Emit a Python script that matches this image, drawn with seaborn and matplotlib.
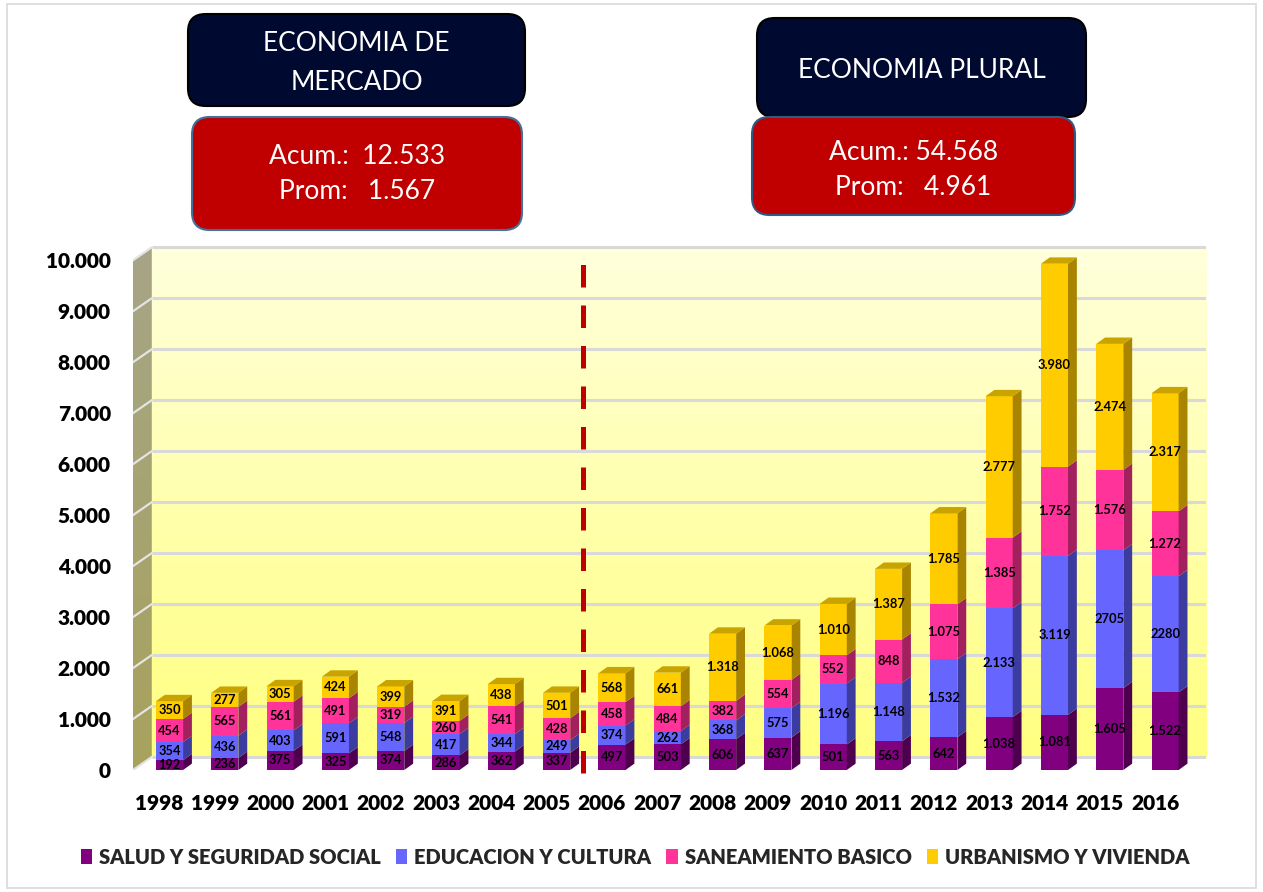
import numpy as np
import pandas as pd
import matplotlib
matplotlib.use("Agg")
import matplotlib.pyplot as plt
import matplotlib.transforms as mtrans
from matplotlib.patches import Polygon, Patch, FancyBboxPatch, Rectangle
from matplotlib.colors import LinearSegmentedColormap
import seaborn as sns

# ---- data -------------------------------------------------------------
years = ["1998", "1999", "2000", "2001", "2002", "2003", "2004", "2005", "2006",
         "2007", "2008", "2009", "2010", "2011", "2012", "2013", "2014", "2015", "2016"]
salud = [192, 236, 375, 325, 374, 286, 362, 337, 497, 503, 606, 637, 501, 563, 642,
         1038, 1081, 1605, 1522]
educacion = [354, 436, 403, 591, 548, 417, 344, 249, 374, 262, 368, 575, 1196, 1148,
             1532, 2133, 3119, 2705, 2280]
saneamiento = [454, 565, 561, 491, 319, 260, 541, 428, 458, 484, 382, 554, 552, 848,
               1075, 1385, 1752, 1576, 1272]
urbanismo = [350, 277, 305, 424, 399, 391, 438, 501, 568, 661, 1318, 1068, 1010, 1387,
             1785, 2777, 3980, 2474, 2317]
series_names = ["SALUD Y SEGURIDAD SOCIAL", "EDUCACION Y CULTURA",
                "SANEAMIENTO BASICO", "URBANISMO Y VIVIENDA"]
y_ticks = [0, 1000, 2000, 3000, 4000, 5000, 6000, 7000, 8000, 9000, 10000]
# labels printed without thousands separator: (series index, year)
plain_labels = {(1, "2015"), (1, "2016")}

box_titles = ["ECONOMIA DE\nMERCADO", "ECONOMIA PLURAL"]
box_stats = ["Acum.:  12.533\nProm:   1.567", "Acum.: 54.568\nProm:   4.961"]

# ---- style ------------------------------------------------------------
front_colors = ["#800080", "#6666FF", "#FF3399", "#FFCC00"]
side_colors = ["#4E004E", "#3C3CA0", "#A3205F", "#A88400"]
top_color = "#C9A300"
FONT = "Lato"

sns.set_theme(style="white")
plt.rcParams["font.family"] = [FONT, "DejaVu Sans"]

W, H, DPI = 1263, 892, 100
fig = plt.figure(figsize=(W / DPI, H / DPI), dpi=DPI)


def fig_rect(x0, y0, x1, y1):
    """pixel box (top-left origin) -> figure fraction [l, b, w, h]"""
    return [x0 / W, 1 - y1 / H, (x1 - x0) / W, (y1 - y0) / H]


ax = fig.add_axes(fig_rect(133, 245, 1206, 770))

df = pd.DataFrame({"year": years, "s0": salud, "s1": educacion,
                   "s2": saneamiento, "s3": urbanismo})
stack = np.cumsum(np.array([salud, educacion, saneamiento, urbanismo]), axis=0)

bar_w = 0.49
# stacked bars: draw cumulative totals from the top layer down
for k in range(3, -1, -1):
    sns.barplot(x=df["year"], y=stack[k], color=front_colors[k], width=bar_w,
                saturation=1, edgecolor="none", ax=ax, zorder=3)

# ---- pseudo 3D geometry ----------------------------------------------
xmin, xmax = -0.66, 18.74
ymax = 10300
wall_dx, wall_dy = 0.34, 256      # depth of the walls
bar_dx, bar_dy = 0.16, 125        # depth of the bars
ax.set_xlim(xmin, xmax)
ax.set_ylim(0, ymax)

# back wall with vertical gradient
wall_cmap = LinearSegmentedColormap.from_list("wall", ["#FFFF80", "#FFFFDC"])
grad = np.linspace(0, 1, 256).reshape(-1, 1)
ax.imshow(grad, extent=[xmin + wall_dx, xmax, wall_dy, y_ticks[-1] + wall_dy],
          origin="lower", aspect="auto", cmap=wall_cmap, zorder=0)

# left side wall
side_cmap = LinearSegmentedColormap.from_list("side", ["#A8A25C", "#A6A587"])
side_img = ax.imshow(grad, extent=[xmin, xmin + wall_dx, 0, y_ticks[-1] + wall_dy],
                     origin="lower", aspect="auto", cmap=side_cmap, zorder=0)
side_poly = Polygon([(xmin, 0), (xmin + wall_dx, wall_dy),
                     (xmin + wall_dx, y_ticks[-1] + wall_dy), (xmin, y_ticks[-1])],
                    closed=True, facecolor="none", edgecolor="none")
ax.add_patch(side_poly)
side_img.set_clip_path(side_poly)

# grid lines on the back wall and the side wall
for t in y_ticks:
    ax.plot([xmin + wall_dx, xmax], [t + wall_dy, t + wall_dy], color="#D9D9D9",
            lw=2.2, zorder=1, solid_capstyle="butt")
    ax.plot([xmin, xmin + wall_dx], [t, t + wall_dy], color="#E4E4E4",
            lw=1.6, zorder=1)

# side and top faces of every segment, plus value labels
series = [salud, educacion, saneamiento, urbanismo]
for i, yr in enumerate(years):
    for k in range(4):
        bottom = stack[k - 1][i] if k > 0 else 0
        top = stack[k][i]
        xr = i + bar_w / 2
        ax.add_patch(Polygon([(xr, bottom), (xr + bar_dx, bottom + bar_dy),
                              (xr + bar_dx, top + bar_dy), (xr, top)],
                             closed=True, facecolor=side_colors[k],
                             edgecolor="none", zorder=3))
        v = series[k][i]
        txt = str(v) if (k, yr) in plain_labels else f"{v:,}".replace(",", ".")
        ax.text(i, (bottom + top) / 2, txt, ha="center", va="center",
                fontsize=9.3, fontweight="bold", color="black", zorder=5)
    top = stack[3][i]
    xl, xr = i - bar_w / 2, i + bar_w / 2
    ax.add_patch(Polygon([(xl, top), (xl + bar_dx, top + bar_dy),
                          (xr + bar_dx, top + bar_dy), (xr, top)],
                         closed=True, facecolor=top_color, edgecolor="none",
                         zorder=3))

# separator between the two periods
ax.plot([7.48, 7.48], [-60, y_ticks[-1] + 100], color="#C00000", lw=3.6,
        ls=(0, (4.5, 3.6)), zorder=2, clip_on=False)

# ---- axes dressing -----------------------------------------------------
for s in ax.spines.values():
    s.set_visible(False)
ax.grid(False)
ax.set_xlabel("")
ax.set_ylabel("")
ax.set_yticks(y_ticks)
ax.set_yticklabels([f"{t:,}".replace(",", ".") for t in y_ticks])
ax.set_xticks(range(len(years)))
ax.set_xticklabels(years)
ax.tick_params(axis="both", length=0, labelsize=15, labelcolor="black")
ax.tick_params(axis="y", pad=16)
ax.tick_params(axis="x", pad=17)
for lab in ax.get_xticklabels() + ax.get_yticklabels():
    lab.set_fontweight("heavy")
shift = mtrans.ScaledTranslation(-10 / DPI, 0, fig.dpi_scale_trans)
for lab in ax.get_xticklabels():
    lab.set_transform(lab.get_transform() + shift)

# legend
handles = [Patch(facecolor=c, edgecolor="none") for c in front_colors]
fig.legend(handles, series_names, loc="center", bbox_to_anchor=(0.503, 1 - 857 / H),
           ncol=4, frameon=False, handlelength=0.55, handleheight=0.8,
           handletextpad=0.35, columnspacing=0.75,
           prop={"family": FONT, "weight": "heavy", "size": 14.5})

# ---- header boxes -----------------------------------------------------
def rounded_box(px, face, edge, lw):
    l, b, w, h = fig_rect(*px)
    box = FancyBboxPatch((l, b), w, h, boxstyle="round,pad=0,rounding_size=0.014",
                         transform=fig.transFigure, facecolor=face, edgecolor=edge,
                         linewidth=lw, mutation_aspect=W / H, zorder=2)
    fig.add_artist(box)
    return l + w / 2, b + h / 2


cx, cy = rounded_box((188, 14, 525, 106), "#000A30", "black", 1.5)
fig.text(cx, cy - 3 / H, box_titles[0], ha="center", va="center", color="white",
         fontsize=19, linespacing=1.72, zorder=3)
cx, cy = rounded_box((192, 117, 522, 230), "#C00000", "#41719C", 1.5)
fig.text(cx, cy - 1 / H, box_stats[0], ha="center", va="center", color="white",
         fontsize=19, linespacing=1.5, zorder=3)
cx, cy = rounded_box((757, 18, 1086, 117), "#000A30", "black", 1.5)
fig.text(cx, cy - 3 / H, box_titles[1], ha="center", va="center", color="white",
         fontsize=19, zorder=3)
cx, cy = rounded_box((752, 117, 1075, 215), "#C00000", "#2E5A84", 1.5)
fig.text(cx, cy - 4 / H, box_stats[1], ha="center", va="center", color="white",
         fontsize=19, linespacing=1.5, zorder=3)

# outer frame
fig.add_artist(Rectangle((7 / W, 4 / H), 1249 / W, 884 / H, transform=fig.transFigure,
                         facecolor="none", edgecolor="#D9D9D9", lw=1.2))

fig.savefig("out.png", dpi=DPI, facecolor="white")
